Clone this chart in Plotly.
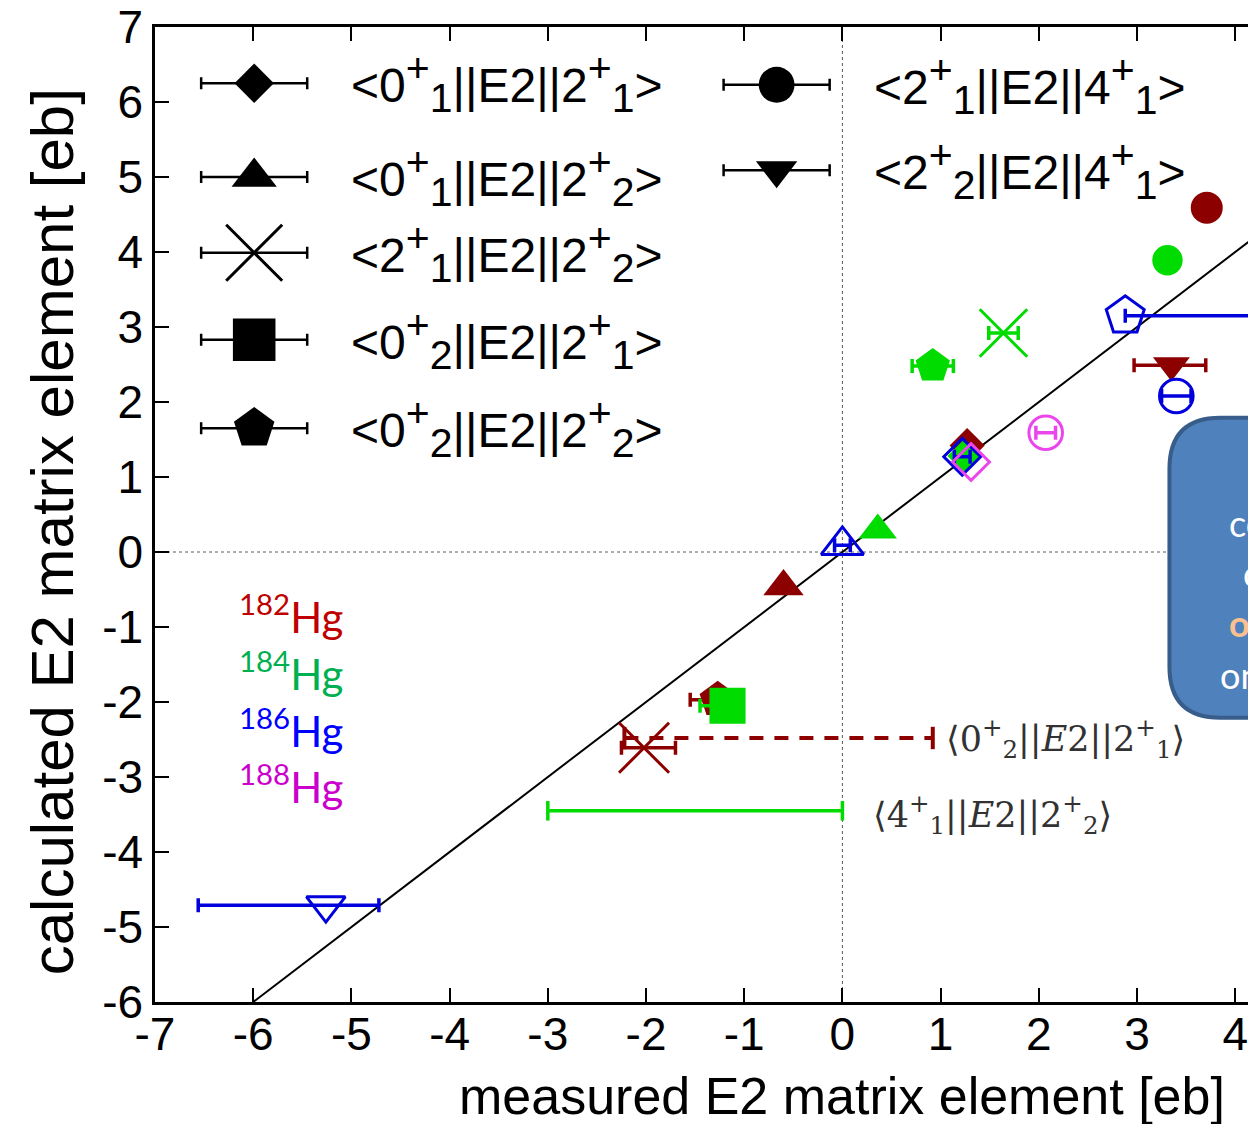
import plotly.graph_objects as go

# ---------------- data ----------------
transitions = ["0+1|2+1", "0+1|2+2", "2+1|2+2", "0+2|2+1", "0+2|2+2", "2+1|4+1", "2+2|4+1"]

# 182Hg
hg182_tr = ["2+1|4+1", "2+2|4+1", "0+1|2+2", "0+1|2+1", "0+2|2+2", "2+1|2+2"]
hg182_meas = [3.71, 3.35, -0.60, 1.27, -1.27, -2.02]
hg182_calc = [4.59, 2.49, -0.46, 1.42, -1.97, -2.61]
hg182_em = [0.0, 0.38, 0.0, 0.0, 0.28, 0.23]
hg182_ep = [0.0, 0.35, 0.0, 0.0, 0.0, 0.32]

# 184Hg
hg184_tr = ["2+1|4+1", "2+1|2+2", "0+2|2+2", "0+1|2+2", "0+1|2+1", "0+2|2+1"]
hg184_meas = [3.31, 1.64, 0.92, 0.36, 1.24, -1.17]
hg184_calc = [3.89, 2.92, 2.48, 0.29, 1.28, -2.05]
hg184_em = [0.0, 0.15, 0.21, 0.0, 0.05, 0.28]
hg184_ep = [0.0, 0.15, 0.21, 0.0, 0.05, 0.0]

# 186Hg
hg186_tr = ["0+2|2+2", "2+1|4+1", "0+1|2+1", "0+1|2+2", "2+2|4+1"]
hg186_meas = [2.88, 3.40, 1.22, 0.00, -5.26]
hg186_calc = [3.15, 2.08, 1.27, 0.09, -4.71]
hg186_em = [0.0, 0.15, 0.08, 0.08, 1.30]
hg186_ep = [2.0, 0.15, 0.08, 0.08, 0.54]

# 188Hg
hg188_tr = ["2+1|4+1", "0+1|2+1"]
hg188_meas = [2.07, 1.31]
hg188_calc = [1.59, 1.20]
hg188_em = [0.10, 0.0]
hg188_ep = [0.10, 0.0]

# measured-only ranges (no calculated marker)
range182_lo, range182_hi, range182_calc = -2.22, 0.92, -2.48   # <0+2||E2||2+1>, 182Hg
range184_lo, range184_hi, range184_calc = -3.00, 0.00, -3.45   # <4+1||E2||2+2>, 184Hg

legend_left = ["0+1|2+1", "0+1|2+2", "2+1|2+2", "0+2|2+1", "0+2|2+2"]
legend_right = ["2+1|4+1", "2+2|4+1"]

iso_names = ["182", "184", "186", "188"]

x_tickvals = [-7, -6, -5, -4, -3, -2, -1, 0, 1, 2, 3, 4]
x_ticktext = ["-7", "-6", "-5", "-4", "-3", "-2", "-1", "0", "1", "2", "3", "4"]
y_tickvals = [-6, -5, -4, -3, -2, -1, 0, 1, 2, 3, 4, 5, 6, 7]
y_ticktext = ["-6", "-5", "-4", "-3", "-2", "-1", "0", "1", "2", "3", "4", "5", "6", "7"]

# ---------------- styles ----------------
C182 = "rgb(140,0,0)"
C184 = "rgb(0,220,0)"
C186 = "rgb(0,0,220)"
C188 = "rgb(235,70,235)"
label_colors = ["rgb(192,0,0)", "rgb(0,176,80)", "rgb(0,0,255)", "rgb(204,0,204)"]

sym = {"0+1|2+1": "diamond", "0+1|2+2": "triangle-up", "2+1|2+2": "x-thin",
       "0+2|2+1": "square", "0+2|2+2": "pentagon", "2+1|4+1": "circle",
       "2+2|4+1": "triangle-down"}
size = {"0+1|2+1": 27, "0+1|2+2": 35, "2+1|2+2": 50, "0+2|2+1": 38,
        "0+2|2+2": 38, "2+1|4+1": 32, "2+2|4+1": 32}

SS = "<span style='font-size:41px'>{}</span>"


def lab(a, ai, b, bi):
    return ("&lt;" + a + "<sup>" + SS.format("+") + "</sup><sub>" + SS.format(ai) + "</sub>||E2||"
            + b + "<sup>" + SS.format("+") + "</sup><sub>" + SS.format(bi) + "</sub>&gt;")


label_html = {
    "0+1|2+1": lab("0", "1", "2", "1"),
    "0+1|2+2": lab("0", "1", "2", "2"),
    "2+1|2+2": lab("2", "1", "2", "2"),
    "0+2|2+1": lab("0", "2", "2", "1"),
    "0+2|2+2": lab("0", "2", "2", "2"),
    "2+1|4+1": lab("2", "1", "4", "1"),
    "2+2|4+1": lab("2", "2", "4", "1"),
}

SANS = "Liberation Sans, Arial, sans-serif"
SERIF = "DejaVu Serif, Liberation Serif, serif"

XR = [-7, 4.13]
YR = [-6, 7]

fig = go.Figure()

# identity line
fig.add_trace(go.Scatter(x=[YR[0], XR[1] + 0.2], y=[YR[0], XR[1] + 0.2], mode="lines",
                         line=dict(color="black", width=2), hoverinfo="skip", showlegend=False))


def add_points(trs, xs, ys, em, ep, color, filled, scale=1.0, mline=3):
    for t, x, y, a, b in zip(trs, xs, ys, em, ep):
        s = sym[t]
        if not filled and s != "x-thin":
            s = s + "-open"
        fig.add_trace(go.Scatter(
            x=[x], y=[y], mode="markers",
            marker=dict(symbol=s, size=size[t] * scale, color=color,
                        line=dict(color=color, width=mline if (not filled or sym[t] == "x-thin") else 0)),
            error_x=dict(type="data", symmetric=False, array=[b], arrayminus=[a],
                         color=color, thickness=3.5, width=7, visible=(a > 0 or b > 0)),
            hoverinfo="skip", showlegend=False))


# measured-only ranges
fig.add_trace(go.Scatter(x=[range182_lo, range182_hi], y=[range182_calc, range182_calc],
                         mode="lines+markers",
                         line=dict(color=C182, width=4, dash="14px,11px"),
                         marker=dict(symbol="line-ns-open", size=16, line=dict(color=C182, width=4)),
                         hoverinfo="skip", showlegend=False))
fig.add_trace(go.Scatter(x=[range184_lo, range184_hi], y=[range184_calc, range184_calc],
                         mode="lines+markers",
                         line=dict(color=C184, width=3.5),
                         marker=dict(symbol="line-ns-open", size=14, line=dict(color=C184, width=3.5)),
                         hoverinfo="skip", showlegend=False))

add_points(hg182_tr, hg182_meas, hg182_calc, hg182_em, hg182_ep, C182, True)
add_points(hg184_tr, hg184_meas, hg184_calc, hg184_em, hg184_ep, C184, True, scale=0.95)
add_points(hg186_tr, hg186_meas, hg186_calc, hg186_em, hg186_ep, C186, False, scale=1.05)
add_points(hg188_tr, hg188_meas, hg188_calc, hg188_em, hg188_ep, C188, False, scale=1.05)

# ---------------- legend (drawn manually, black symbols with error bars) ----------------
left_rows_y = [6.25, 5.0, 3.99, 2.83, 1.65]
right_rows_y = [6.23, 5.09]
annotations = []
for col, rows, xm, xt in [(legend_left, left_rows_y, -5.99, -5.02),
                          (legend_right, right_rows_y, -0.67, 0.30)]:
    for t, yy in zip(col, rows):
        fig.add_trace(go.Scatter(
            x=[xm], y=[yy], mode="markers",
            marker=dict(symbol=sym[t], size=size[t] * 1.12, color="black",
                        line=dict(color="black", width=3 if sym[t] == "x-thin" else 0)),
            error_x=dict(type="data", array=[0.54], color="black", thickness=2.5, width=6),
            hoverinfo="skip", showlegend=False))
        annotations.append(dict(x=xt, y=yy, xref="x", yref="y", text=label_html[t],
                                showarrow=False, xanchor="left", yanchor="middle",
                                font=dict(family=SANS, size=48, color="black")))

# isotope labels
for i, (name, col) in enumerate(zip(iso_names, label_colors)):
    annotations.append(dict(x=-6.16, y=-0.83 - 0.755 * i, xref="x", yref="y",
                            text=f"<sup>{name}</sup>Hg", showarrow=False,
                            xanchor="left", yanchor="middle",
                            font=dict(family="Lato, Open Sans, sans-serif", size=42, color=col)))

# in-plot transition labels
annotations.append(dict(x=1.03, y=-2.48, xref="x", yref="y",
                        text="⟨0<sup>+</sup><sub>2</sub>||<i>E</i>2||2<sup>+</sup><sub>1</sub>⟩",
                        showarrow=False, xanchor="left", yanchor="middle",
                        font=dict(family=SERIF, size=35, color="rgb(50,50,50)")))
annotations.append(dict(x=0.29, y=-3.50, xref="x", yref="y",
                        text="⟨4<sup>+</sup><sub>1</sub>||<i>E</i>2||2<sup>+</sup><sub>2</sub>⟩",
                        showarrow=False, xanchor="left", yanchor="middle",
                        font=dict(family=SERIF, size=35, color="rgb(50,50,50)")))

# axis titles (the x title is centred on the uncropped original panel)
annotations.append(dict(x=0, y=-0.096, xref="x", yref="paper",
                        text="measured E2 matrix element [eb]", showarrow=False,
                        xanchor="center", yanchor="middle",
                        font=dict(family=SANS, size=52, color="black")))
annotations.append(dict(x=-0.094, y=0.482, xref="paper", yref="paper", textangle=-90,
                        text="calculated E2 matrix element [eb]", showarrow=False,
                        xanchor="center", yanchor="middle",
                        font=dict(family=SANS, size=60, color="black")))

# callout box text (cut off at right edge)
box_lines = [("consistent", 3.92, 0.39, "white", False),
             ("calculations", 4.06, -0.28, "white", False),
             ("order", 3.92, -0.95, "rgb(250,192,144)", True),
             ("only", 3.82, -1.64, "white", False)]
for txt, bx, by, bc, bold in box_lines:
    annotations.append(dict(x=bx, y=by, xref="x", yref="y",
                            text=f"<b>{txt}</b>" if bold else txt,
                            showarrow=False, xanchor="left", yanchor="middle",
                            font=dict(family="Lato, Open Sans, sans-serif", size=36, color=bc)))

# ---------------- shapes ----------------
shapes = [
    dict(type="line", x0=XR[0], x1=XR[1], y0=0, y1=0, xref="x", yref="y",
         line=dict(color="rgb(90,90,90)", width=1, dash="dot"), layer="below"),
    dict(type="line", x0=0, x1=0, y0=YR[0], y1=YR[1], xref="x", yref="y",
         line=dict(color="rgb(90,90,90)", width=1, dash="dot"), layer="below"),
]
xl, xr_, yt, yb, rx, ry = 3.33, 4.8, 1.79, -2.21, 0.52, 0.68
box_path = (f"M {xl + rx},{yt} L {xr_},{yt} L {xr_},{yb} L {xl + rx},{yb} "
            f"Q {xl},{yb} {xl},{yb + ry} L {xl},{yt - ry} Q {xl},{yt} {xl + rx},{yt} Z")
shapes.append(dict(type="path", path=box_path, xref="x", yref="y",
                   fillcolor="rgb(79,129,189)", line=dict(color="rgb(56,93,138)", width=4),
                   layer="above"))

fig.update_layout(
    width=1248, height=1124,
    margin=dict(l=155, r=0, t=27, b=122),
    paper_bgcolor="white", plot_bgcolor="white",
    shapes=shapes, annotations=annotations,
    showlegend=False,
)
fig.update_xaxes(range=XR, tickmode="array", tickvals=x_tickvals, ticktext=x_ticktext,
                 showgrid=False, zeroline=False, ticklabeloverflow="allow",
                 ticklabelstandoff=-10,
                 showline=True, linecolor="black", linewidth=2.5, mirror="ticks",
                 ticks="inside", ticklen=14, tickwidth=2, tickcolor="black",
                 tickfont=dict(family=SANS, size=46, color="black"))
fig.update_yaxes(range=YR, tickmode="array", tickvals=y_tickvals, ticktext=y_ticktext,
                 showgrid=False, zeroline=False,
                 showline=True, linecolor="black", linewidth=2.5, mirror=False,
                 ticks="inside", ticklen=14, tickwidth=2, tickcolor="black",
                 tickfont=dict(family=SANS, size=46, color="black"))

fig.write_html("out.html")
